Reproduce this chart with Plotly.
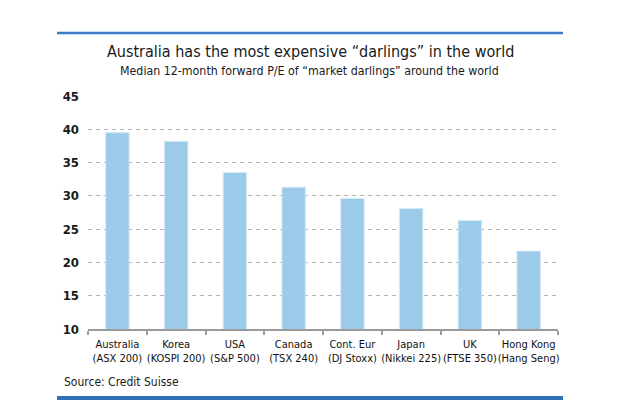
import plotly.graph_objects as go

# Median 12-month forward P/E of "market darlings"
markets = ["Australia", "Korea", "USA", "Canada", "Cont. Eur", "Japan", "UK", "Hong Kong"]
indices = ["ASX 200", "KOSPI 200", "S&P 500", "TSX 240", "DJ Stoxx", "Nikkei 225", "FTSE 350", "Hang Seng"]
pe_values = [39.5, 38.2, 33.5, 31.3, 29.6, 28.1, 26.3, 21.7]
y_ticks = [10, 15, 20, 25, 30, 35, 40, 45]

labels = [f"{m}<br>({i})" for m, i in zip(markets, indices)]

FONT = "DejaVu Sans Condensed, Liberation Sans Narrow, sans-serif"
BLUE = "#3a7cc3"

fig = go.Figure()
fig.add_trace(go.Bar(
    x=labels,
    y=pe_values,
    width=0.4,
    marker=dict(color="#9ccbea", line=dict(color="#d4e9f7", width=1)),
    hoverinfo="x+y",
))

fig.update_layout(
    width=640,
    height=400,
    margin=dict(l=88, r=82, t=96, b=71),
    paper_bgcolor="white",
    plot_bgcolor="white",
    showlegend=False,
    font=dict(family=FONT, color="#1a1a1a"),
    bargap=0.6,
)

fig.update_yaxes(
    range=[10, 45],
    tickvals=y_ticks,
    showgrid=True,
    gridcolor="#b3b3b3",
    gridwidth=1,
    griddash="4px,4px",
    zeroline=False,
    showline=False,
    ticks="",
    ticklabelstandoff=8,
    automargin=False,
    tickfont=dict(size=13, family=FONT, weight="bold", color="#1a1a1a"),
)

fig.update_xaxes(
    showline=True,
    linecolor="#9a9a9a",
    linewidth=1.5,
    ticks="outside",
    tickson="boundaries",
    ticklen=4,
    tickcolor="#9a9a9a",
    tickwidth=1.5,
    tickangle=0,
    ticklabelstandoff=4,
    automargin=False,
    tickfont=dict(size=11, family=FONT, color="#111111"),
)

# paper-coordinate helpers (plot area: x 88..558, y 96..329 px)
def px_x(px):
    return (px - 88) / 470


def px_y(py):
    return (329 - py) / 233


# top and bottom blue rules
fig.add_shape(type="line", xref="paper", yref="paper",
              x0=px_x(57), x1=px_x(563), y0=px_y(33), y1=px_y(33),
              line=dict(color=BLUE, width=2.5))
fig.add_shape(type="rect", xref="paper", yref="paper",
              x0=px_x(57), x1=px_x(563), y0=px_y(396), y1=px_y(404),
              line=dict(width=0), fillcolor="#2f72b8")

fig.add_annotation(text="Australia has the most expensive \u201cdarlings\u201d in the world",
                   xref="paper", yref="paper", x=px_x(310), y=px_y(52),
                   showarrow=False, xanchor="center", yanchor="middle",
                   font=dict(size=16, family=FONT, color="#1a1a1a"))
fig.add_annotation(text="Median 12-month forward P/E of \u201cmarket darlings\u201d around the world",
                   xref="paper", yref="paper", x=px_x(309), y=px_y(71),
                   showarrow=False, xanchor="center", yanchor="middle",
                   font=dict(size=12.3, family=FONT, color="#1a1a1a"))
fig.add_annotation(text="Source: Credit Suisse",
                   xref="paper", yref="paper", x=px_x(62), y=px_y(382),
                   showarrow=False, xanchor="left", yanchor="middle",
                   font=dict(size=12, family=FONT, color="#1a1a1a"))

# drop the default 8px body margin so the figure sits at the page origin
fig.write_html("out.html", config={"displayModeBar": False},
               post_script="document.body.style.margin='0';")
